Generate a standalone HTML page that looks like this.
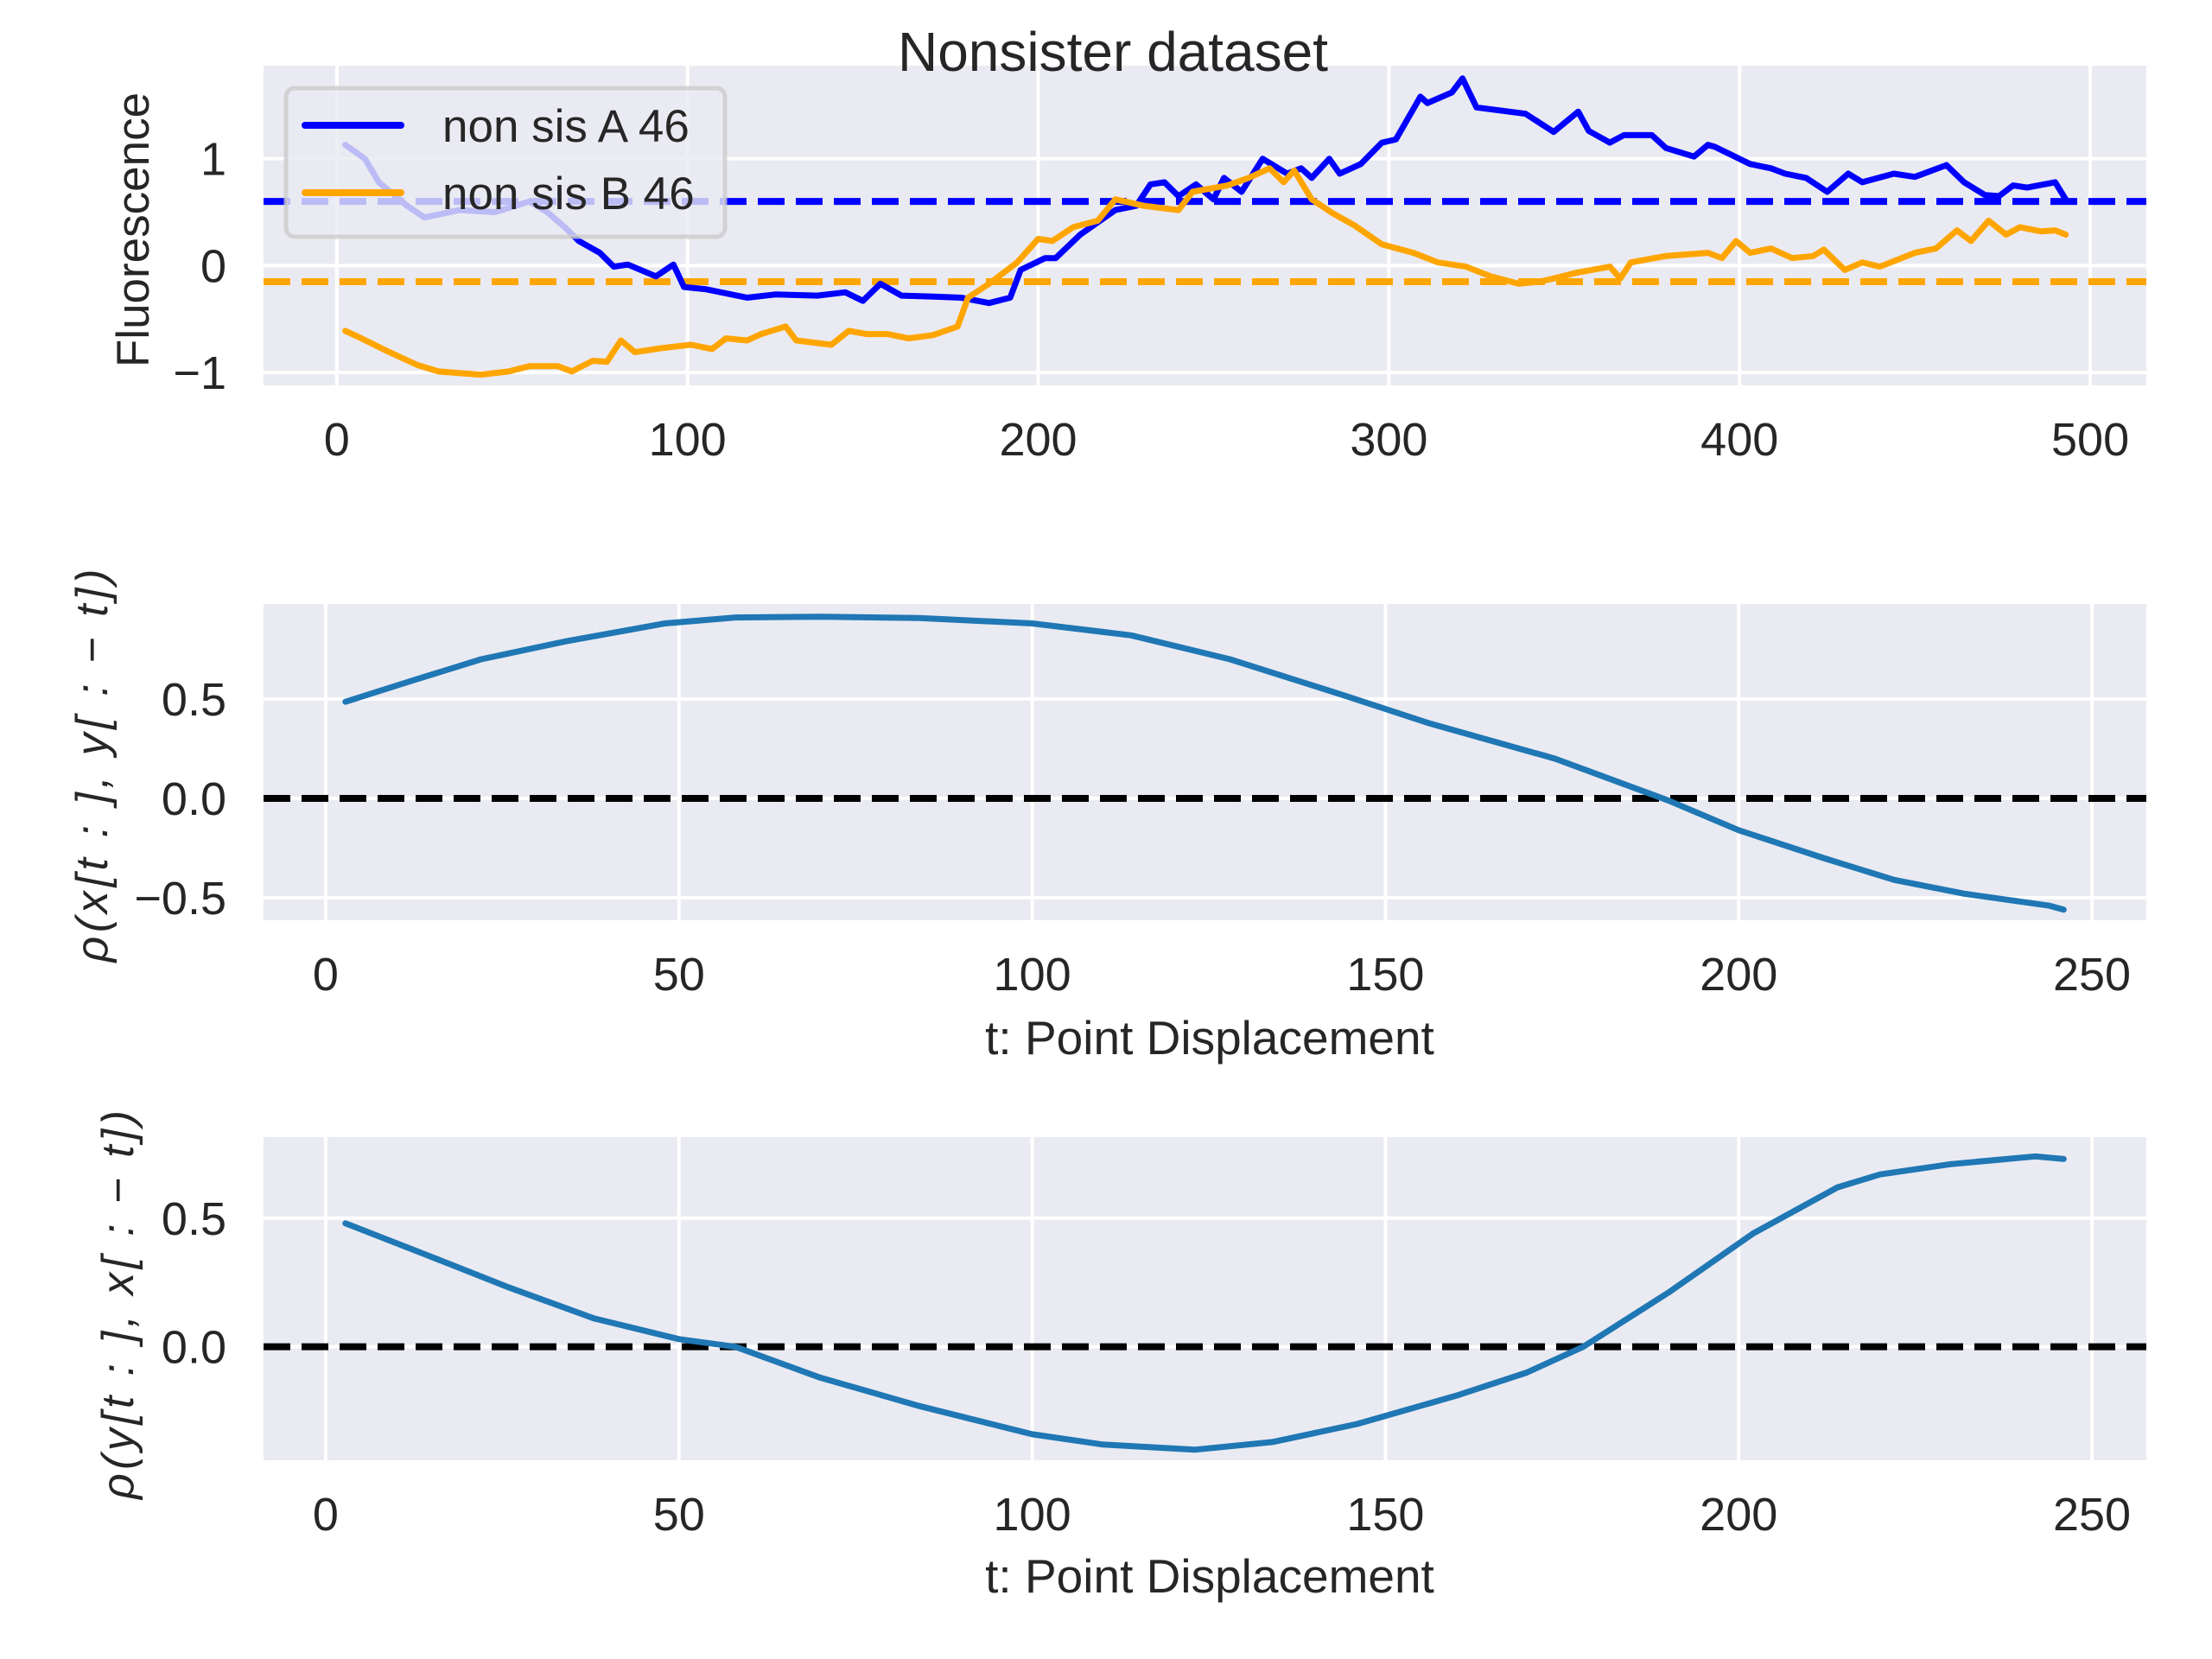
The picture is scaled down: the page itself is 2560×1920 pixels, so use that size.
<!DOCTYPE html>
<html><head><meta charset="utf-8"><style>
html,body{margin:0;padding:0;background:#fff}
svg{display:block}
text{font-family:"Liberation Sans","DejaVu Sans",sans-serif;fill:#262626}
</style></head><body>
<svg id="chart" width="2560" height="1920" viewBox="0 0 2560 1920" xmlns="http://www.w3.org/2000/svg"></svg>
<script>
// ---- data ----
const seriesAx=[2.4,8,12,20,25,35,45,55,60,65,69,75,79,83,91,96,99,105,117,125,137,145,150,155,161,170,178,186,192,195,202,205,212,222,228,232,236,240,245,250,253,258,264,271,275,278,283,286,292,298,302,309,311,318,321,325,339,347,354,357,363,367,375,379,387,391,393,403,409,413,419,425,431,435,444,450,459,464,470,474,478,482,490,493];
const seriesAy=[1.13,1.0,0.78,0.56,0.45,0.52,0.5,0.6,0.5,0.36,0.23,0.12,-0.01,0.01,-0.1,0.01,-0.2,-0.22,-0.3,-0.27,-0.28,-0.25,-0.33,-0.17,-0.28,-0.29,-0.3,-0.35,-0.3,-0.04,0.07,0.07,0.29,0.52,0.56,0.76,0.78,0.65,0.76,0.62,0.82,0.69,1.0,0.86,0.91,0.82,1.0,0.86,0.95,1.15,1.18,1.58,1.52,1.62,1.75,1.48,1.42,1.25,1.44,1.26,1.15,1.22,1.22,1.1,1.02,1.13,1.11,0.95,0.91,0.86,0.82,0.69,0.86,0.78,0.86,0.83,0.94,0.78,0.66,0.65,0.75,0.73,0.78,0.62];
const seriesBx=[2.4,7,15,23,29,41,49,55,63,67,73,77,81,85,93,101,107,111,117,121,128,131,141,146,151,157,163,170,177,180,186,194,200,204,210,217,222,230,240,244,254,260,266,270,273,278,284,290,298,307,314,322,329,337,343,347,353,363,366,369,379,391,395,399,403,409,415,421,424,430,435,440,450,456,462,466,471,476,480,486,490,493];
const seriesBy=[-0.61,-0.68,-0.81,-0.93,-0.99,-1.02,-0.99,-0.94,-0.94,-0.99,-0.89,-0.9,-0.7,-0.81,-0.77,-0.74,-0.78,-0.68,-0.7,-0.64,-0.57,-0.7,-0.74,-0.61,-0.64,-0.64,-0.68,-0.65,-0.57,-0.3,-0.17,0.03,0.25,0.23,0.36,0.42,0.62,0.56,0.52,0.69,0.75,0.82,0.91,0.78,0.89,0.62,0.49,0.38,0.2,0.12,0.03,-0.01,-0.1,-0.17,-0.15,-0.12,-0.07,-0.01,-0.12,0.03,0.09,0.12,0.07,0.23,0.12,0.16,0.07,0.09,0.15,-0.04,0.03,-0.01,0.12,0.16,0.33,0.23,0.42,0.29,0.36,0.32,0.33,0.29];
const meanA=0.6, meanB=-0.15;
const corrXYt=[2.8,12,22,34,48,58,70,84,100,114,128,144,156,174,190,200,212,222,232,244,246];
const corrXYv=[0.486,0.59,0.70,0.79,0.88,0.91,0.914,0.907,0.88,0.82,0.70,0.52,0.38,0.2,-0.01,-0.16,-0.3,-0.41,-0.48,-0.54,-0.56];
const corrYXt=[2.8,14,26,38,50,58,70,84,100,110,123,134,146,160,170,178,190,202,214,220,230,242,246];
const corrYXv=[0.48,0.36,0.23,0.11,0.03,0,-0.12,-0.23,-0.34,-0.38,-0.40,-0.37,-0.30,-0.19,-0.10,0,0.21,0.44,0.62,0.67,0.71,0.74,0.73];
const ticksX1=[0,100,200,300,400,500];
const ticksY1=[-1,0,1];
const ticksX2=[0,50,100,150,200,250];
const ticksY2=[-0.5,0,0.5];
const ticksY3=[0,0.5];

const svg=document.getElementById('chart');
const NS='http://www.w3.org/2000/svg';
function mk(tag,attrs,parent){const e=document.createElementNS(NS,tag);for(const k in attrs)e.setAttribute(k,attrs[k]);(parent||svg).appendChild(e);return e;}
function lin(d0,d1,r0,r1){return v=>r0+(v-d0)/(d1-d0)*(r1-r0);}

function panel(name,L,T,R,B,xd,yd,xt,yt,fmt){
  const g=mk('g',{});
  
  
  const bg=mk('rect',{x:L,y:T,width:R-L,height:B-T,fill:'#eaeaf2'},g);
  
  
  const sx=lin(xd[0],xd[1],L,R), sy=lin(yd[0],yd[1],B,T);
  xt.forEach(v=>{
    const l=mk('line',{x1:sx(v),x2:sx(v),y1:T,y2:B,stroke:'#fff','stroke-width':4},g);
    
    
    const t=mk('text',{x:sx(v),y:B+81,'text-anchor':'middle','font-size':54},g);
    
    
    t.textContent=String(v);
  });
  yt.forEach(v=>{
    const l=mk('line',{x1:L,x2:R,y1:sy(v),y2:sy(v),stroke:'#fff','stroke-width':4},g);
    
    
    const t=mk('text',{x:262,y:sy(v)+19,'text-anchor':'end','font-size':54},g);
    
    
    t.textContent=fmt(v);
  });
  return {g,sx,sy,L,R};
}
function hline(p,v,color,name){
  const l=mk('line',{x1:p.L,x2:p.R,y1:p.sy(v),y2:p.sy(v),stroke:color,'stroke-width':8,'stroke-dasharray':'31 13'},p.g);
  
  
}
function series(p,xs,ys,color,name){
  const d=xs.map((x,i)=>(i?'L':'M')+p.sx(x).toFixed(1)+','+p.sy(ys[i]).toFixed(1)).join('');
  const e=mk('path',{d:d,fill:'none',stroke:color,'stroke-width':7,'stroke-linejoin':'round','stroke-linecap':'round'},p.g);
  
  
}
const minus=s=>s.replace('-','\u2212');

// panel 1
const p1=panel('fluorescence-panel',305,76,2484,446,[-20.9,516.0],[-1.12,1.87],ticksX1,ticksY1,v=>minus(String(v)));
hline(p1,meanA,'#0000ff','mean-line-a');
hline(p1,meanB,'#ffa500','mean-line-b');
series(p1,seriesAx,seriesAy,'#0000ff','series-non-sis-a');
series(p1,seriesBx,seriesBy,'#ffa500','series-non-sis-b');
// legend
const lg=mk('g',{});


const lr=mk('rect',{x:331,y:102,width:508,height:172,rx:10,fill:'rgba(234,234,242,0.8)',stroke:'rgba(204,204,204,0.8)','stroke-width':5},lg);


[['non sis A 46','#0000ff',145],['non sis B 46','#ffa500',223]].forEach(([t,c,y])=>{
  const l=mk('line',{x1:353,x2:464,y1:y,y2:y,stroke:c,'stroke-width':8,'stroke-linecap':'round'},lg);
  
  
  const tx=mk('text',{x:512,y:y+19,'font-size':53},lg);
  
  
  tx.textContent=t;
});
const ttl=mk('text',{x:1288,y:82,'text-anchor':'middle','font-size':64});


ttl.textContent='Nonsister dataset';
const yl1=mk('text',{x:0,y:0,'text-anchor':'middle','font-size':53,transform:'translate(172,266) rotate(-90)'});


yl1.textContent='Fluorescence';

// panel 2
const p2=panel('cross-correlation-xy-panel',305,699,2484,1065,[-8.8,257.7],[-0.613,0.978],ticksX2,ticksY2,v=>minus(v.toFixed(1)));
hline(p2,0,'#000','zero-line-xy');
series(p2,corrXYt,corrXYv,'#1f77b4','series-corr-xy');
const xl2=mk('text',{x:1400,y:1220,'text-anchor':'middle','font-size':55});


xl2.textContent='t: Point Displacement';
const yl2=mk('text',{x:0,y:0,'text-anchor':'middle','font-size':52,'font-family':'DejaVu Sans,sans-serif','font-style':'italic',textLength:455,lengthAdjust:'spacing',transform:'translate(124,886) rotate(-90)'});


yl2.textContent='ρ(x[t : ], y[ : − t])';

// panel 3
const p3=panel('cross-correlation-yx-panel',305,1316,2484,1690,[-8.8,257.7],[-0.441,0.815],ticksX2,ticksY3,v=>minus(v.toFixed(1)));
hline(p3,0,'#000','zero-line-yx');
series(p3,corrYXt,corrYXv,'#1f77b4','series-corr-yx');
const xl3=mk('text',{x:1400,y:1843,'text-anchor':'middle','font-size':55});


xl3.textContent='t: Point Displacement';
const yl3=mk('text',{x:0,y:0,'text-anchor':'middle','font-size':52,'font-family':'DejaVu Sans,sans-serif','font-style':'italic',textLength:450,lengthAdjust:'spacing',transform:'translate(154,1510) rotate(-90)'});


yl3.textContent='ρ(y[t : ], x[ : − t])';
</script>
</body></html>
